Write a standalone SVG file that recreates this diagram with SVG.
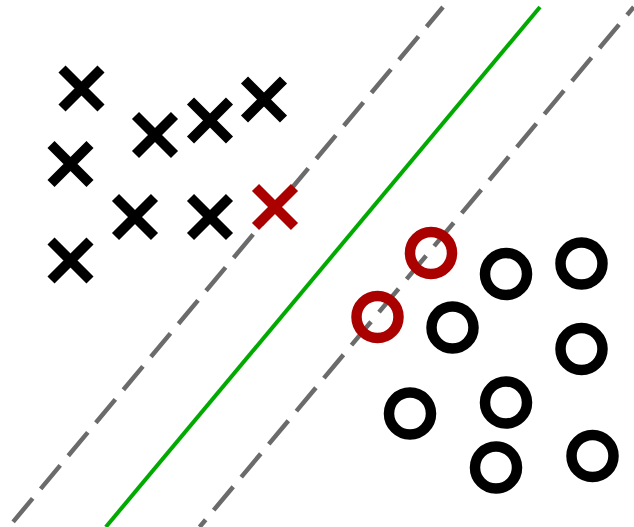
<svg xmlns="http://www.w3.org/2000/svg" width="634" height="527" viewBox="0 0 634 527">
<style>
.dash{stroke:#6b6b6b;stroke-width:4.5;stroke-dasharray:30.5 12.5;fill:none}
.sep{stroke:#00aa00;stroke-width:4;fill:none}
.xm{stroke-width:10;fill:none}
.om{stroke-width:10.5;fill:none}
.k{stroke:#000}
.r{stroke:#aa0000}
</style>
<defs>
<path id="xshape" d="M-19.5,-19.5L19.5,19.5M19.5,-19.5L-19.5,19.5"/>
<circle id="oshape" r="21"/>
</defs>
<rect width="634" height="527" fill="#fff"/>
<g id="connectors">
<line class="dash" x1="443" y1="7" x2="8.8" y2="527" stroke-dashoffset="4.8"/>
<line class="sep" x1="540" y1="7" x2="105.8" y2="527"/>
<line class="dash" x1="633.8" y1="7" x2="199.6" y2="527" stroke-dashoffset="20"/>
</g>
<g id="x1"><use href="#xshape" class="xm k" x="81.5" y="88.5"/></g>
<g id="x2"><use href="#xshape" class="xm k" x="155" y="135"/></g>
<g id="x3"><use href="#xshape" class="xm k" x="210" y="120.5"/></g>
<g id="x4"><use href="#xshape" class="xm k" x="264" y="99.5"/></g>
<g id="x5"><use href="#xshape" class="xm k" x="70.5" y="164"/></g>
<g id="x6"><use href="#xshape" class="xm k" x="135" y="217"/></g>
<g id="x7"><use href="#xshape" class="xm k" x="210" y="217"/></g>
<g id="x8"><use href="#xshape" class="xm r" x="275" y="207"/></g>
<g id="x9"><use href="#xshape" class="xm k" x="70.5" y="260.5"/></g>
<g id="o1"><use href="#oshape" class="om r" x="431" y="253"/></g>
<g id="o2"><use href="#oshape" class="om r" x="377.5" y="317"/></g>
<g id="o3"><use href="#oshape" class="om k" x="506" y="274"/></g>
<g id="o4"><use href="#oshape" class="om k" x="581.5" y="263.5"/></g>
<g id="o5"><use href="#oshape" class="om k" x="452.5" y="327.5"/></g>
<g id="o6"><use href="#oshape" class="om k" x="581.5" y="349"/></g>
<g id="o7"><use href="#oshape" class="om k" x="410" y="413.5"/></g>
<g id="o8"><use href="#oshape" class="om k" x="506" y="402.5"/></g>
<g id="o9"><use href="#oshape" class="om k" x="496" y="467.5"/></g>
<g id="o10"><use href="#oshape" class="om k" x="592.5" y="456"/></g>
</svg>
